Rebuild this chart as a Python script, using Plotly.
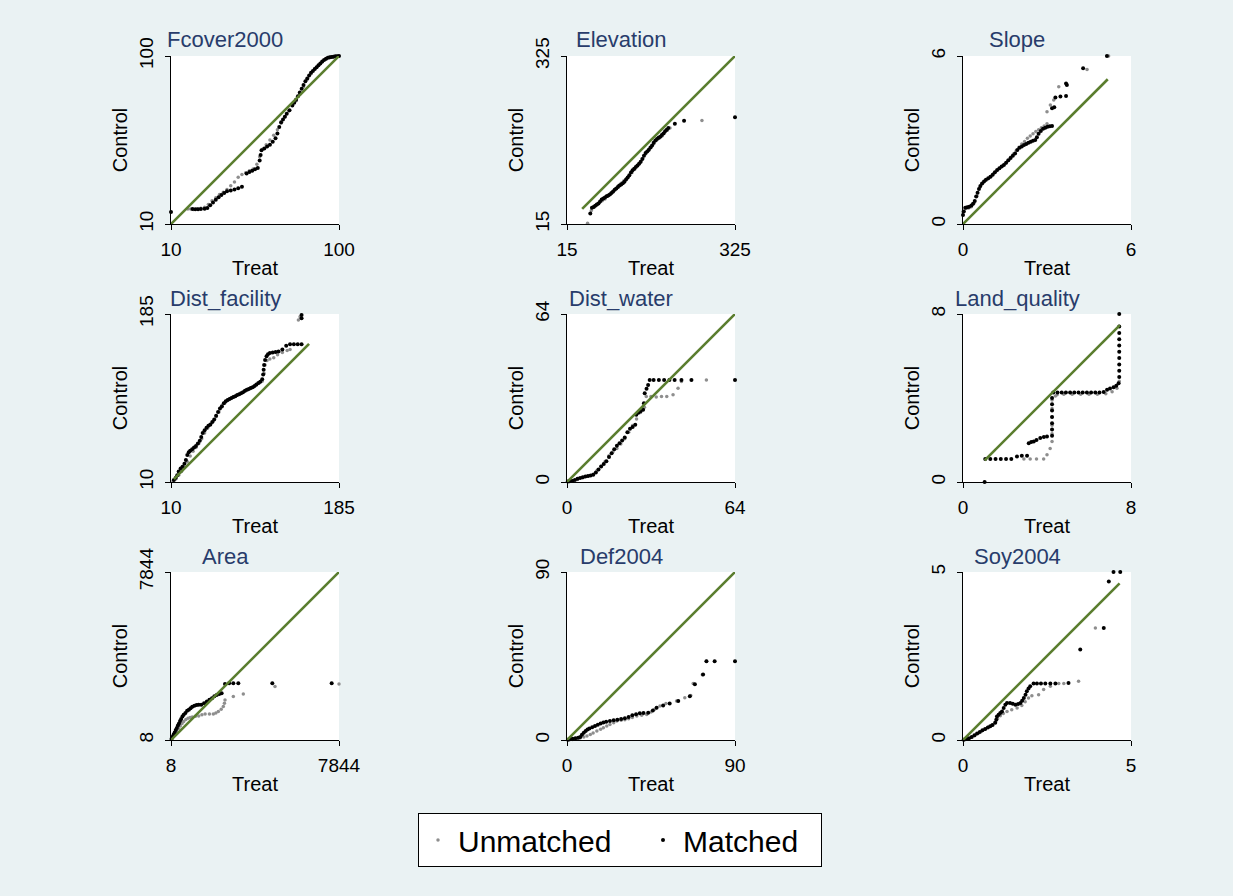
import plotly.graph_objects as go

# ---------------- DATA ----------------
titles = ["Fcover2000", "Elevation", "Slope", "Dist_facility", "Dist_water",
          "Land_quality", "Area", "Def2004", "Soy2004"]
ranges = [[10, 100], [15, 325], [0, 6], [10, 185], [0, 64], [0, 8], [8, 7844], [0, 90], [0, 5]]

# Fcover2000
fc_m_t = [10, 21.5, 23, 24.5, 26, 28, 29.5, 31, 32.5, 34, 35.5, 37, 38.5, 40, 42, 44, 46, 48, 50.5, 52, 53.5, 55, 56.5,
          57.5, 58, 58.5, 60, 61.5, 63, 64.5, 66, 67, 68, 69, 70, 71, 72, 73.5, 75, 76, 77, 78, 79, 80, 81, 82, 83, 84,
          85, 86, 87, 88, 89, 90, 91, 92, 93, 94, 95, 96, 97, 98, 99, 100]
fc_m_c = [16.4, 18.0, 17.9, 17.9, 18.0, 18.2, 18.6, 20.0, 21.5, 23.0, 24.3, 25.5, 26.6, 27.5, 28.0, 28.5, 29.2, 30.0,
          37.0, 37.8, 38.5, 39.3, 40.0, 44.0, 47.0, 49.5, 50.5, 51.5, 52.5, 54.0, 56.0, 58.5, 62.0, 64.5, 66.0, 67.5,
          69.0, 71.0, 73.5, 75.0, 76.5, 78.5, 80.5, 82.5, 84.5, 86.5, 88.0, 89.5, 91.0, 92.0, 93.0, 94.0, 95.0, 96.0,
          97.0, 97.8, 98.5, 99.0, 99.3, 99.5, 99.6, 99.8, 99.9, 100]
fc_u_t = [19, 20.5, 22, 24, 26, 28, 30, 32, 34, 36, 38, 40, 42, 44, 46, 48, 50, 52, 54, 56, 57.5, 59, 61, 63, 65, 67,
          69, 71, 73, 75, 77, 79, 81, 83, 85, 87, 89, 91, 93, 95, 97, 99]
fc_u_c = [18.0, 18.0, 17.8, 18.2, 18.5, 19.0, 20.5, 22.5, 24.0, 25.8, 27.0, 28.5, 30.5, 32.5, 35.0, 36.5, 37.5, 38.5,
          39.5, 42.0, 46.0, 50.0, 52.5, 55.0, 57.5, 60.5, 64.0, 67.5, 70.5, 73.5, 76.0, 79.5, 83.5, 87.5, 90.5, 93.0,
          95.0, 96.8, 98.2, 99.0, 99.6, 99.9]
fc_diag = [10, 100]

# Elevation
el_m_t = [58, 61, 64, 67, 70, 73, 76, 79, 82, 85, 88, 91, 94, 97, 100, 103, 106, 109, 112, 115, 118, 121, 124, 127, 130,
          133, 136, 139, 142, 145, 148, 151, 154, 157, 160, 163, 166, 169, 172, 175, 178, 181, 184, 187, 190, 193, 196,
          199, 202, 214, 231, 325]
el_m_c = [34.6, 45, 46.5, 48.5, 51, 53, 56.5, 60, 62, 64, 66, 67.5, 69.5, 72, 75, 78, 80.5, 83.5, 86, 88, 90, 93, 97,
          101, 105, 110, 114, 117, 120, 123, 126, 130, 135, 141, 146, 149, 152, 156, 160, 165, 169, 172, 174, 176, 179,
          182, 186, 189, 192, 200, 205.5, 212]
el_u_t = [53, 60, 65, 70, 75, 80, 85, 90, 95, 100, 105, 110, 115, 120, 125, 130, 135, 140, 145, 150, 155, 160, 165, 170,
          175, 180, 185, 190, 195, 200, 205, 264]
el_u_c = [16.2, 40, 46, 50, 54, 58, 61, 66, 70, 74, 80, 86, 90, 95, 99, 104, 110, 116, 122, 128, 136, 144, 150, 156,
          163, 169, 173, 177, 183, 188, 192, 206]
el_diag = [43, 325]

# Slope
sl_m_t = [0, 0.03, 0.08, 0.15, 0.22, 0.3, 0.36, 0.42, 0.47, 0.52, 0.57, 0.62, 0.68, 0.75, 0.82, 0.9, 0.98, 1.06, 1.14,
          1.22, 1.3, 1.38, 1.46, 1.54, 1.62, 1.7, 1.78, 1.86, 1.94, 2.02, 2.1, 2.18, 2.26, 2.34, 2.42, 2.5, 2.58, 2.64,
          2.7, 2.78, 2.86, 2.94, 3.02, 3.1, 3.18, 3.18, 3.26, 3.3, 3.48, 3.68, 3.68, 3.71, 4.29, 5.14]
sl_m_c = [0.32, 0.45, 0.58, 0.6, 0.62, 0.66, 0.72, 0.82, 0.98, 1.12, 1.25, 1.36, 1.45, 1.52, 1.58, 1.63, 1.69, 1.76,
          1.85, 1.93, 1.99, 2.05, 2.11, 2.19, 2.28, 2.36, 2.44, 2.52, 2.64, 2.72, 2.77, 2.82, 2.86, 2.9, 2.94, 2.97, 3.0,
          3.1, 3.22, 3.32, 3.4, 3.44, 3.47, 3.49, 3.5, 4.13, 4.17, 4.52, 4.55, 4.57, 5.02, 4.96, 5.56, 6.0]
sl_u_t = [0, 0.1, 0.2, 0.3, 0.4, 0.5, 0.6, 0.7, 0.8, 0.9, 1.0, 1.1, 1.2, 1.3, 1.4, 1.5, 1.6, 1.7, 1.8, 1.9, 2.0, 2.1,
          2.2, 2.3, 2.4, 2.5, 2.6, 2.7, 2.8, 2.9, 3.0, 3.0, 3.12, 3.24, 3.42, 4.43, 5.2]
sl_u_c = [0.44, 0.55, 0.57, 0.62, 0.75, 1.0, 1.3, 1.45, 1.55, 1.62, 1.7, 1.8, 1.9, 1.98, 2.06, 2.15, 2.26, 2.38, 2.5,
          2.62, 2.74, 2.86, 2.95, 3.06, 3.14, 3.22, 3.3, 3.37, 3.44, 3.5, 3.58, 4.01, 4.25, 4.43, 4.9, 5.52, 6.0]
sl_diag = [0, 5.17]

# Dist_facility
df_m_t = [13, 15, 16.5, 18, 20, 22, 24, 25.5, 27, 28.5, 30, 32, 34, 36, 38, 40, 41.5, 43, 45, 47, 49, 51, 53, 55, 57,
          59, 61, 63, 65, 67, 69, 71, 73, 75, 77, 79, 81, 83, 85, 87, 89, 91, 93, 95, 97, 99, 101, 103, 105, 106,
          106.5, 107, 108, 109.5, 111, 113, 116, 119, 122, 126, 130, 134, 138, 142, 146, 146, 146]
df_m_c = [12, 14.5, 17, 21, 24, 26, 29, 33, 38, 41, 42.5, 44, 46, 47.5, 50, 53, 57, 61, 64, 66.5, 68.5, 70, 72.5, 75,
          79, 83, 86.5, 89, 92, 94, 95.5, 96.5, 97.5, 98.5, 99.3, 100.5, 101.5, 102.5, 103.5, 105, 106, 107, 108, 108.8,
          110, 111.5, 113, 114.5, 117, 122, 127, 132, 137, 141, 143, 144.5, 145, 145.5, 146, 148, 152, 153.5, 153.5,
          153.5, 153.5, 180.5, 184]
df_u_t = [12, 15, 18, 21, 24, 27, 30, 33, 36, 39, 42, 45, 48, 51, 54, 57, 60, 63, 66, 69, 72, 75, 78, 81, 84, 87, 90,
          93, 96, 99, 102, 105, 107, 108, 110, 113, 117, 121, 126, 131, 134, 142.7, 144.4]
df_u_c = [11, 13, 17, 21, 25, 31, 37, 42, 46, 50, 55, 61, 66, 69.5, 73, 78, 83, 88, 92, 95, 97, 98.5, 100, 101.5, 103,
          104.5, 106, 107.5, 109, 111, 113, 115, 123, 132, 136.5, 138, 139.5, 142.5, 145, 147, 148, 178.7, 182.2]
df_diag = [13, 153.8]

# Dist_water
dw_m_t = [0.3, 1, 2, 3, 4, 5, 6, 7, 8, 9, 10, 11, 12, 13, 14, 15, 16, 17, 18, 19, 20, 21, 22, 23, 24, 25, 26, 26.4,
          27.2, 28, 29, 29.3, 29.6, 30.3, 30.9, 31.5, 33, 35, 37, 39, 41, 43.6, 47.4, 64]
dw_m_c = [0.2, 0.3, 0.4, 0.8, 1.2, 1.5, 1.8, 2.1, 2.3, 2.5, 2.8, 3.6, 4.8, 5.9, 6.9, 7.9, 9.5, 11.0, 12.5, 13.8, 14.8,
          15.8, 17.0, 19.0, 20.3, 21.0, 21.8, 25.6, 26.4, 27, 27.5, 30, 33.8, 35.5, 37, 38.9, 38.9, 38.9, 38.9, 38.9,
          38.9, 38.9, 38.9, 38.9]
dw_u_t = [0.5, 2, 4, 6, 8, 10, 11.5, 13, 14.5, 16, 17.5, 19, 20.5, 22, 23.5, 25, 26.5, 28, 29.5, 30.2, 32, 34, 36, 38,
          40.4, 42.3, 43.6, 53.1]
dw_u_c = [0.2, 0.5, 1, 1.6, 2.2, 3, 4.5, 6, 7.8, 10, 11.5, 12.8, 14.5, 16.5, 19, 21.5, 24, 26.5, 28.5, 32.6, 32.6,
          32.4, 32.6, 32.6, 33.2, 35.7, 38.3, 38.9]
dw_diag = [0, 64]

# Land_quality
lq_m_t = [1.03, 1.06, 1.3, 1.55, 1.8, 2.05, 2.3, 2.57, 2.8, 3.05, 3.13, 3.25, 3.37, 3.5, 3.68, 3.85, 4.0, 4.24, 4.24,
          4.24, 4.24, 4.24, 4.24, 4.24, 4.3, 4.5, 4.7, 4.9, 5.1, 5.3, 5.5, 5.7, 5.9, 6.1, 6.3, 6.5, 6.7, 6.86, 7.0, 7.17,
          7.3, 7.41, 7.44, 7.44, 7.44, 7.44, 7.44, 7.44, 7.44, 7.44, 7.44, 7.44]
lq_m_c = [0, 1.09, 1.09, 1.09, 1.09, 1.09, 1.1, 1.22, 1.25, 1.25, 1.85, 1.9, 1.93, 2.0, 2.09, 2.14, 2.17, 2.2, 2.5,
          2.8, 3.1, 3.4, 3.7, 4.0, 4.26, 4.26, 4.26, 4.26, 4.26, 4.26, 4.26, 4.26, 4.26, 4.26, 4.26, 4.26, 4.28, 4.39,
          4.45, 4.51, 4.58, 4.7, 5.0, 5.3, 5.6, 5.9, 6.2, 6.5, 6.8, 7.1, 7.4, 8.0]
lq_u_t = [2.9, 3.2, 3.5, 3.84, 4.0, 4.15, 4.24, 4.24, 4.24, 4.24, 4.24, 4.24, 4.4, 4.48, 4.8, 5.2, 5.6, 6.0, 6.4, 6.8,
          7.1, 7.33, 7.44]
lq_u_c = [1.09, 1.09, 1.09, 1.09, 1.3, 1.6, 1.93, 2.3, 2.7, 3.1, 3.5, 3.9, 4.1, 4.15, 4.18, 4.18, 4.18, 4.18, 4.18,
          4.2, 4.3, 4.47, 4.8]
lq_diag = [1.03, 7.47]

# Area
ar_m_t = [30, 80, 130, 180, 230, 280, 330, 380, 430, 480, 540, 600, 680, 760, 840, 920, 1000, 1100, 1200, 1300, 1420,
          1550, 1680, 1800, 1920, 2030, 2140, 2260, 2370, 2527, 2720, 2915, 3148, 4734, 7502]
ar_m_c = [60, 160, 260, 360, 470, 570, 680, 780, 890, 990, 1100, 1190, 1270, 1370, 1420, 1490, 1560, 1610, 1640, 1650,
          1650, 1720, 1800, 1880, 1950, 2050, 2110, 2150, 2190, 2625, 2656, 2656, 2656, 2656, 2656]
ar_u_t = [50, 120, 200, 280, 360, 440, 520, 600, 700, 800, 900, 1000, 1150, 1300, 1450, 1600, 1800, 1983, 2100, 2216,
          2350, 2449, 2500, 2527, 2915, 3381, 4858, 7844]
ar_u_c = [80, 170, 300, 420, 540, 660, 780, 870, 960, 1020, 1060, 1080, 1110, 1130, 1180, 1220, 1220, 1223, 1270, 1332,
          1440, 1566, 1720, 1877, 2033, 2158, 2500, 2625]
ar_diag = [8, 7844]

# Def2004
de_m_t = [0.5, 1.5, 3, 4.5, 6, 7.1, 8, 9, 10, 11, 12, 13.5, 15, 16.5, 18, 19.5, 21, 23, 25, 27, 29, 31, 33, 35, 37, 39,
          41, 43.5, 46, 48, 51.5, 55, 59.6, 65.8, 68.5, 72.9, 74.7, 79.1, 90]
de_m_c = [0.2, 0.4, 0.7, 0.9, 1.2, 1.6, 2.8, 3.9, 4.8, 5.6, 6.2, 6.8, 7.5, 8.2, 8.9, 9.4, 9.8, 10.2, 10.6, 10.9, 11.2,
          11.7, 12.3, 13.3, 13.8, 14.3, 14.4, 14.6, 15.8, 17.3, 18.5, 19.6, 20.9, 23.5, 29.8, 35.1, 42.2, 42.2, 42.2]
de_u_t = [1, 3, 5.3, 7, 9, 10.7, 12.5, 14, 16, 18, 19.5, 21.3, 23, 25, 26.7, 29, 31, 33, 35, 37.4, 40, 42.7, 45, 47,
          49.8, 53, 58.7, 63.1, 66.3, 67.6, 72.5, 74.7]
de_u_c = [0.2, 0.3, 0.7, 1.1, 1.6, 2.1, 3.0, 3.8, 4.8, 5.7, 6.5, 7.5, 8.3, 9.2, 10.2, 10.6, 10.9, 11.4, 12.0, 12.8,
          13.2, 13.7, 15, 16.5, 18.2, 19.5, 20.9, 22.6, 23.9, 30.3, 35, 42.2]
de_diag = [0, 90]

# Soy2004
so_m_t = [0.02, 0.1, 0.18, 0.26, 0.34, 0.42, 0.5, 0.58, 0.66, 0.74, 0.81, 0.88, 0.96, 0.99, 1.01, 1.06, 1.11, 1.16,
          1.21, 1.26, 1.31, 1.4, 1.48, 1.56, 1.64, 1.71, 1.76, 1.81, 1.86, 1.9, 1.95, 2.0, 2.1, 2.2, 2.32, 2.45, 2.6,
          2.75, 3.14, 3.49, 4.19, 4.34, 4.48, 4.68]
so_m_c = [0.01, 0.03, 0.05, 0.09, 0.14, 0.19, 0.24, 0.29, 0.33, 0.37, 0.41, 0.45, 0.51, 0.6, 0.7, 0.75, 0.8, 0.85,
          0.95, 1.05, 1.1, 1.1, 1.08, 1.05, 1.07, 1.1, 1.17, 1.25, 1.35, 1.45, 1.53, 1.6, 1.68, 1.68, 1.68, 1.68, 1.68,
          1.68, 1.7, 2.69, 3.33, 4.72, 5.0, 5.0]
so_u_t = [0.05, 0.15, 0.25, 0.35, 0.45, 0.55, 0.65, 0.75, 0.85, 0.95, 1.03, 1.11, 1.2, 1.31, 1.45, 1.61, 1.75, 1.85,
          1.95, 2.05, 2.25, 2.4, 2.6, 2.85, 3.0, 3.44, 3.94]
so_u_c = [0.01, 0.04, 0.08, 0.13, 0.19, 0.26, 0.32, 0.38, 0.44, 0.52, 0.63, 0.72, 0.79, 0.85, 0.9, 0.95, 1.03, 1.14,
          1.25, 1.32, 1.35, 1.5, 1.6, 1.68, 1.68, 1.75, 3.33]
so_diag = [0, 4.66]

series = [
    (fc_u_t, fc_u_c, fc_m_t, fc_m_c, fc_diag),
    (el_u_t, el_u_c, el_m_t, el_m_c, el_diag),
    (sl_u_t, sl_u_c, sl_m_t, sl_m_c, sl_diag),
    (df_u_t, df_u_c, df_m_t, df_m_c, df_diag),
    (dw_u_t, dw_u_c, dw_m_t, dw_m_c, dw_diag),
    (lq_u_t, lq_u_c, lq_m_t, lq_m_c, lq_diag),
    (ar_u_t, ar_u_c, ar_m_t, ar_m_c, ar_diag),
    (de_u_t, de_u_c, de_m_t, de_m_c, de_diag),
    (so_u_t, so_u_c, so_m_t, so_m_c, so_diag),
]

# ---------------- LAYOUT ----------------
W, H = 1233, 896
X0 = [171, 567, 963]
Y0 = [56, 314, 572]
S = 168
FONT = "Liberation Sans, Arial, sans-serif"
BG = "#EAF2F3"
GREEN = "#5A7D2E"
GRAY = "#8E8E8E"
TITLE_COLOR = "#283C6B"

fig = go.Figure()
annotations = []
for i, (ut, uc, mt, mc, dg) in enumerate(series):
    r, c = divmod(i, 3)
    n = i + 1
    sx = "" if n == 1 else str(n)
    xd = [X0[c] / W, (X0[c] + S) / W]
    yd = [1 - (Y0[r] + S) / H, 1 - Y0[r] / H]
    rng = ranges[i]
    common = dict(
        range=rng, tickvals=rng, ticktext=[str(v) for v in rng],
        showline=True, linecolor="black", linewidth=1, ticks="outside", ticklen=5,
        tickcolor="black", tickwidth=1, showgrid=False, zeroline=False, automargin=False,
        tickfont=dict(family=FONT, size=19, color="black"), fixedrange=True,
    )
    fig.update_layout(**{
        f"xaxis{sx}": dict(domain=xd, anchor=f"y{sx}", ticklabelstandoff=3, **common,
                           title=dict(text="Treat", font=dict(family=FONT, size=20, color="black"), standoff=2)),
        f"yaxis{sx}": dict(domain=yd, anchor=f"x{sx}", tickangle=-90, ticklabelstandoff=4, **common,
                           title=dict(text="Control", font=dict(family=FONT, size=20, color="black"), standoff=3)),
    })
    fig.add_trace(go.Scatter(x=ut, y=uc, mode="markers", name="Unmatched", legendgroup="u",
                             showlegend=(i == 0), legendwidth=180, cliponaxis=False,
                             marker=dict(color=GRAY, size=3.5, line=dict(width=0)),
                             xaxis=f"x{sx}", yaxis=f"y{sx}"))
    fig.add_trace(go.Scatter(x=mt, y=mc, mode="markers", name="Matched", legendgroup="m",
                             showlegend=(i == 0), legendwidth=133, cliponaxis=False,
                             marker=dict(color="black", size=4, line=dict(width=0)),
                             xaxis=f"x{sx}", yaxis=f"y{sx}"))
    fig.add_trace(go.Scatter(x=dg, y=dg, mode="lines", showlegend=False, hoverinfo="skip",
                             line=dict(color=GREEN, width=2.6), xaxis=f"x{sx}", yaxis=f"y{sx}"))
    annotations.append(dict(
        text=titles[i], xref="paper", yref="paper",
        x=(X0[c] + S / 2 - 30) / W, y=1 - (Y0[r] - 16) / H,
        xanchor="center", yanchor="middle", showarrow=False,
        font=dict(family=FONT, size=22, color=TITLE_COLOR)))

fig.update_layout(
    width=W, height=H, margin=dict(l=0, r=0, t=0, b=0, autoexpand=False),
    paper_bgcolor=BG, plot_bgcolor="white",
    annotations=annotations,
    showlegend=True,
    legend=dict(orientation="h", x=620 / W, xanchor="center", y=1 - 840 / H, yanchor="middle",
                bgcolor="white", bordercolor="black", borderwidth=1,
                font=dict(family=FONT, size=30, color="black"), itemsizing="trace"),
    font=dict(family=FONT),
)

fig.write_html("out.html", config={"displayModeBar": False},
               post_script="document.body.style.margin='0';document.body.style.overflow='hidden';")
